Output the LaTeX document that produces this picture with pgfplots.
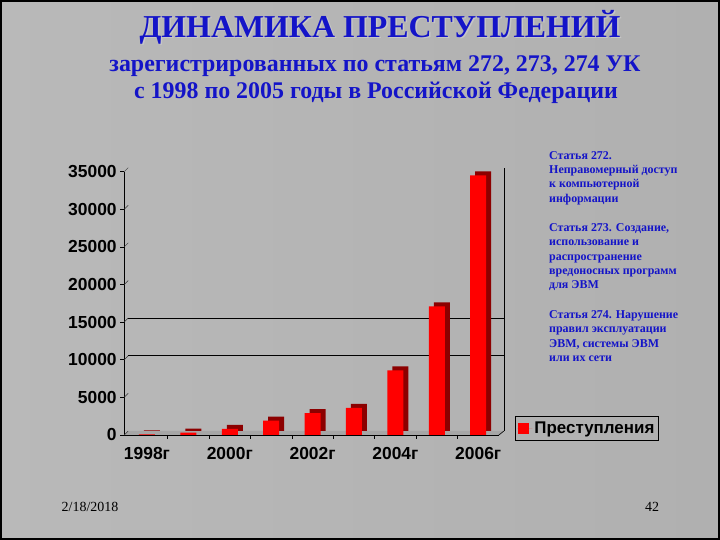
\documentclass[border=0pt]{standalone}
\usepackage{fontspec}
\setmainfont{Liberation Serif}
\newfontfamily\arial{Liberation Sans}
\usepackage{pgfplots}
\pgfplotsset{compat=1.18}

\definecolor{titleblue}{RGB}{20,20,200}
\definecolor{barred}{RGB}{255,0,0}
\definecolor{bardark}{RGB}{140,0,0}

\begin{document}
\begin{tikzpicture}[x=1bp,y=1bp]
\useasboundingbox (0,0) rectangle (720,540);
% slide background
\shade[left color=gray!55, middle color=gray!12, right color=gray!62] (0,0) rectangle (720,540);
\draw[black, line width=2bp] (1,1) rectangle (719,539);

% titles
\node[text=gray!45, font=\bfseries\fontsize{32}{36}\selectfont] at (381.5,511.5) {ДИНАМИКА ПРЕСТУПЛЕНИЙ};
\node[text=titleblue, font=\bfseries\fontsize{32}{36}\selectfont] at (380,513) {ДИНАМИКА ПРЕСТУПЛЕНИЙ};
\node[text=titleblue, font=\bfseries\fontsize{24}{28}\selectfont] at (375,474) {зарегистрированных по статьям 272, 273, 274 УК};
\node[text=titleblue, font=\bfseries\fontsize{24}{28}\selectfont] at (376,447) {с 1998 по 2005 годы в Российской Федерации};

% notes on the right
\begin{scope}[every node/.style={anchor=north west, align=left, inner sep=0pt,
    text=titleblue, font=\bfseries\fontsize{12}{14.5}\selectfont}]
\node at (549,389) {Статья 272.\\Неправомерный доступ\\к компьютерной\\информации};
\node at (549,317) {Статья 273. Создание,\\использование и\\распространение\\вредоносных программ\\для ЭВМ};
\node at (549,230) {Статья 274. Нарушение\\правил эксплуатации\\ЭВМ, системы ЭВМ\\или их сети};
\end{scope}

% footer
\node[font=\fontsize{14}{16}\selectfont] at (90,33) {2/18/2018};
\node[font=\fontsize{14}{16}\selectfont] at (652,33) {42};

\begin{axis}[
  at={(124.2bp,105bp)}, anchor=south west,
  scale only axis,
  width=374.7bp, height=263.3bp,
  xmin=-0.55, xmax=8.5,
  ymin=0, ymax=35000,
  clip=false,
  axis x line=bottom, axis y line=left,
  axis line style={-, black, line width=0.8bp},
  tick align=outside,
  ytick={0,5000,...,35000},
  scaled y ticks=false,
  major tick length=4bp,
  tick style={black, line width=0.6bp},
  xtick={0.5,1.5,...,7.5},
  xticklabels={},
  extra x ticks={0,2,4,6,8},
  extra x tick labels={1998г,2000г,2002г,2004г,2006г},
  extra x tick style={major tick length=0pt, grid=none},
  /pgf/number format/assume math mode=true,
  /pgf/number format/1000 sep={},
  yticklabel style={font=\arial\bfseries\fontsize{17.5}{20}\selectfont},
  xticklabel style={font=\arial\bfseries\fontsize{17.5}{20}\selectfont, yshift=-9bp},
  legend style={at={(axis description cs:1.043,0.0722)}, anchor=north west,
    draw=black, fill=none, line width=0.8bp,
    font=\arial\bfseries\fontsize{17}{19}\selectfont,
    inner xsep=2bp, inner ysep=3.5bp},
  legend image code/.code={\fill[barred] (1bp,-5.5bp) rectangle (12bp,5.5bp); \path (0bp,0bp) -- (15bp,0bp);},
]
% floor and back wall
\fill[gray!70] (rel axis cs:0,0) -- (rel axis cs:1,0) -- ([shift={(5bp,4bp)}]rel axis cs:1,0)
  -- ([shift={(5bp,4bp)}]rel axis cs:0,0) -- cycle;
\draw[black, line width=0.8bp] ([shift={(5bp,4bp)}]rel axis cs:1,0) -- ([shift={(5bp,4bp)}]rel axis cs:1,1);
\draw[black, line width=0.6bp] (rel axis cs:1,0) -- ([shift={(5bp,4bp)}]rel axis cs:1,0);
\pgfplotsinvokeforeach{0,5000,10000,15000,20000,25000,30000,35000}{
  \draw[black!80, line width=0.5bp] (axis cs:-0.55,#1) -- ++(4bp,4bp);
}
\draw[black, line width=0.8bp] ([shift={(4bp,4bp)}]axis cs:-0.55,10000) -- ([shift={(5bp,4bp)}]axis cs:8.5,10000);
\draw[black, line width=0.8bp] ([shift={(4bp,4bp)}]axis cs:-0.55,15000) -- ([shift={(5bp,4bp)}]axis cs:8.5,15000);

% depth of the bars
\addplot[ybar, bar width=16bp, fill=bardark, draw=none, xshift=5bp, yshift=4bp, forget plot]
  coordinates {(0,66) (1,300) (2,800) (3,1900) (4,2900) (5,3600) (6,8600) (7,17100) (8,34500)};
% front of the bars
\addplot[ybar, bar width=16bp, fill=barred, draw=none]
  coordinates {(0,66) (1,300) (2,800) (3,1900) (4,2900) (5,3600) (6,8600) (7,17100) (8,34500)};
\addlegendentry{Преступления}
\end{axis}
\end{tikzpicture}
\end{document}
